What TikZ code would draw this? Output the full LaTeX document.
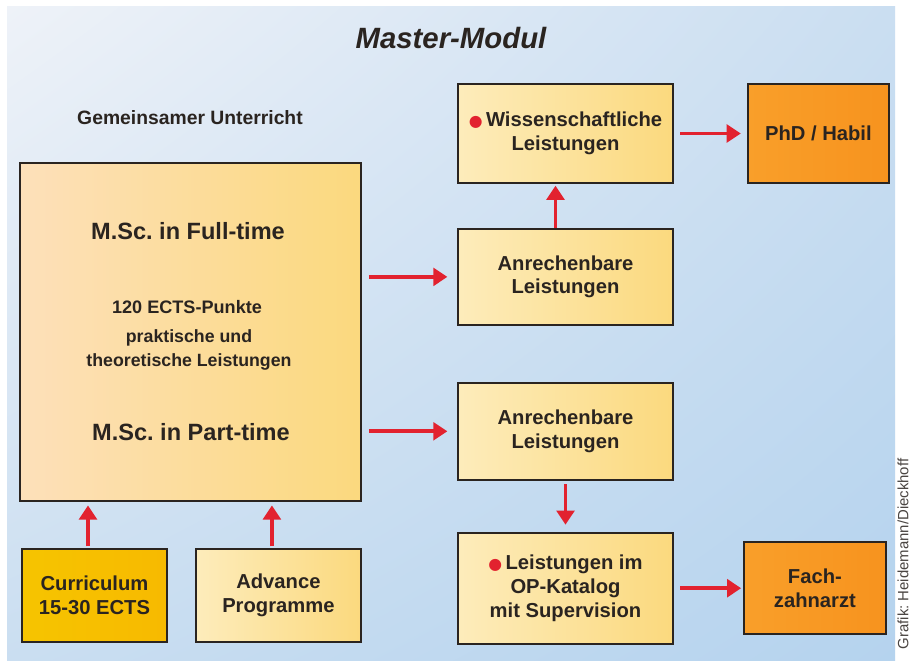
\documentclass[tikz,border=0pt]{standalone}
\usepackage{fontspec}
\setmainfont{Liberation Sans}
\newfontfamily\ballfont{DejaVu Sans}
\usepackage{tikz}
\usetikzlibrary{positioning, arrows.meta, calc, shadings}
\usepackage{xcolor}
\definecolor{skylight}{HTML}{EEF2F8}
\definecolor{skymid}{HTML}{CADEF1}
\definecolor{skydeep}{HTML}{B5D3EE}
\definecolor{cream}{HTML}{FDECBB}
\definecolor{peach}{HTML}{FDE0BA}
\definecolor{honey}{HTML}{FBD97E}
\definecolor{tangerine}{HTML}{F7931E}
\definecolor{amber}{HTML}{F99F2A}
\definecolor{gold}{HTML}{F6C400}
\definecolor{signal}{HTML}{E2222F}
\definecolor{ink}{HTML}{2A2420}
\frenchspacing

\newcommand{\redball}{{\ballfont\fontsize{9}{9}\selectfont\color{signal}\symbol{"25CF}}\,}

\begin{document}
\begin{tikzpicture}[
    x=0.02cm, y=-0.02cm,
    frame/.style={draw=ink, line width=1.1pt, align=center, text=ink, inner sep=0pt,
        font=\fontsize{11.5}{13.5}\selectfont\bfseries, left color=cream, right color=honey},
    hot/.style={frame, left color=amber, right color=tangerine},
    txt/.style={text=ink, align=center, inner sep=0pt},
    arr/.style={-{Triangle[length=8pt, width=10pt]}, line width=2.2pt, signal},
    every node/.style={font=\bfseries}
]
\useasboundingbox (0,0) rectangle (912,661);
\fill[white] (0,0) rectangle (912,661);
\shade[upper left=skylight, upper right=skymid, lower left=skymid, lower right=skydeep]
    (7,7) rectangle (895,661);

% Title
\node[txt, font=\fontsize{16.7}{18}\selectfont\bfseries\itshape] (title) at (451,38) {Master-Modul};
\node[txt, font=\fontsize{11}{13}\selectfont\bfseries] (common) at (190,118) {Gemeinsamer Unterricht};

% Common courses
\node[frame, left color=peach, minimum width=6.82cm, minimum height=6.76cm] (msc) at (190.5,332) {};
\node[txt, font=\fontsize{13.4}{15}\selectfont\bfseries] (full) at (188,231.5) {M.Sc. in Full-time};
\node[txt, font=\fontsize{10.3}{12}\selectfont\bfseries] (ects) at (187,307.5) {120 ECTS-Punkte};
\node[txt, font=\fontsize{10.1}{13.2}\selectfont\bfseries] (prac) at (189,350) {praktische und\\theoretische Leistungen};
\node[txt, font=\fontsize{13.4}{15}\selectfont\bfseries] (part) at (191,432) {M.Sc. in Part-time};

% Entry modules
\node[frame, left color=gold, right color=gold!85!orange, minimum width=2.9cm, minimum height=1.86cm] (cur) at (94.5,595.5) {Curriculum\\15-30 ECTS};
\node[frame, minimum width=3.3cm, minimum height=1.86cm, right=0.54cm of cur] (adv) {Advance\\Programme};

% Right column
\node[frame, minimum width=4.3cm, minimum height=1.98cm] (wiss) at (565.5,133.5) {\redball Wissenschaftliche\\Leistungen};
\node[hot, minimum width=2.82cm, minimum height=1.98cm, right=1.46cm of wiss] (phd) {PhD / Habil};
\node[frame, minimum width=4.3cm, minimum height=1.92cm, below=0.88cm of wiss] (anr1) {Anrechenbare\\Leistungen};
\node[frame, minimum width=4.3cm, minimum height=1.94cm, below=1.12cm of anr1] (anr2) {Anrechenbare\\Leistungen};
\node[frame, minimum width=4.3cm, minimum height=2.22cm, below=1.02cm of anr2] (op) {\redball Leistungen im\\OP-Katalog\\mit Supervision};
\node[hot, minimum width=2.84cm, minimum height=1.84cm, right=1.38cm of op] (fach) {Fach-\\zahnarzt};

% Arrows
\draw[arr, shorten <=1pt, shorten >=2pt] ([xshift=-0.13cm]cur.north) -- ([xshift=-0.13cm]cur.north |- msc.south);
\draw[arr, shorten <=1pt, shorten >=2pt] ([xshift=-0.13cm]adv.north) -- ([xshift=-0.13cm]adv.north |- msc.south);
\draw[arr, shorten <=4pt, shorten >=5.5pt] (msc.east |- anr1.west) -- (anr1.west);
\draw[arr, shorten <=4pt, shorten >=5.5pt] (msc.east |- anr2.west) -- (anr2.west);
\draw[arr, shorten >=1pt] ([xshift=-0.2cm]anr1.north) -- ([xshift=-0.2cm]wiss.south);
\draw[arr, shorten <=2pt, shorten >=4pt] (anr2.south) -- (op.north);
\draw[arr, shorten <=3.5pt, shorten >=3.5pt] (wiss.east) -- (phd.west);
\draw[arr, shorten <=3.5pt, shorten >=1pt] (op.east |- fach.west) -- (fach.west);

% Credit
\node[txt, font=\fontsize{8.5}{9}\selectfont, text=ink!85, rotate=90] (credit) at (903,554) {Grafik: Heidemann/Dieckhoff};
\end{tikzpicture}
\end{document}
